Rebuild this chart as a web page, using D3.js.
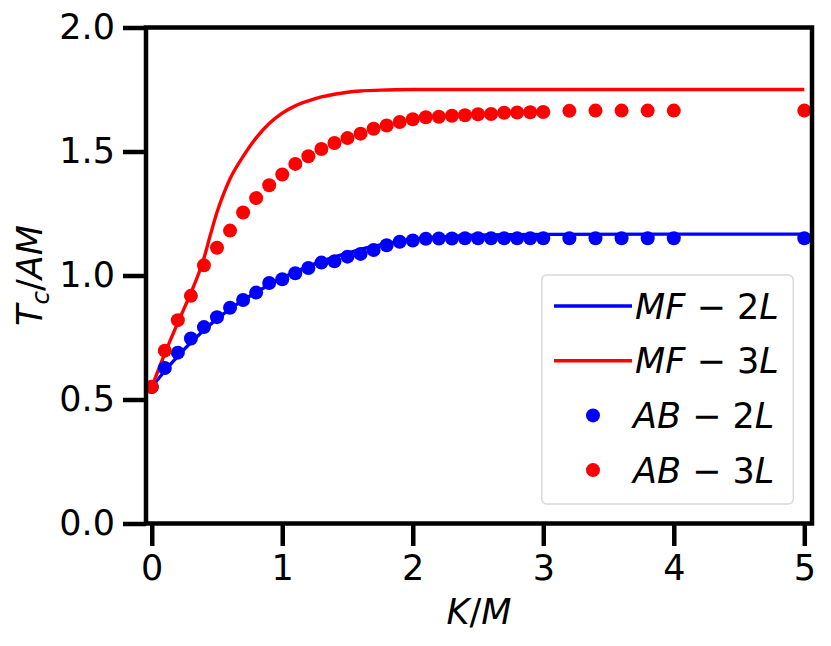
<!DOCTYPE html>
<html>
<head>
<meta charset="utf-8">
<script src="https://cdn.jsdelivr.net/npm/d3@7"></script>
<style>
  body { margin: 0; background: #fff; }
  text { font-family: "DejaVu Sans", sans-serif; }
</style>
</head>
<body>
<script>
// K/M grid of the AB (dots) data
var kAB = [0, 0.1, 0.2, 0.3, 0.4, 0.5, 0.6, 0.7, 0.8, 0.9, 1.0,
           1.1, 1.2, 1.3, 1.4, 1.5, 1.6, 1.7, 1.8, 1.9, 2.0,
           2.1, 2.2, 2.3, 2.4, 2.5, 2.6, 2.7, 2.8, 2.9, 3.0,
           3.2, 3.4, 3.6, 3.8, 4.0, 5.0];
var ab2L = [0.550, 0.627, 0.689, 0.746, 0.792, 0.832, 0.870, 0.901, 0.931, 0.970, 0.985,
            1.009, 1.030, 1.052, 1.057, 1.076, 1.087, 1.103, 1.122, 1.136, 1.141,
            1.148, 1.149, 1.149, 1.150, 1.150, 1.150, 1.150, 1.150, 1.150, 1.150,
            1.150, 1.150, 1.150, 1.150, 1.150, 1.150];
var ab3L = [0.551, 0.697, 0.820, 0.918, 1.041, 1.112, 1.181, 1.254, 1.312, 1.364, 1.407,
            1.450, 1.481, 1.510, 1.534, 1.554, 1.572, 1.592, 1.605, 1.619, 1.630,
            1.638, 1.640, 1.644, 1.646, 1.650, 1.651, 1.656, 1.657, 1.658, 1.659,
            1.664, 1.665, 1.665, 1.665, 1.665, 1.665];

// K/M grid of the MF (lines) curves
var kMF = [0, 0.1, 0.2, 0.3, 0.35, 0.4, 0.45, 0.5, 0.55, 0.6, 0.7, 0.8, 0.9, 1.0,
           1.1, 1.2, 1.3, 1.4, 1.5, 1.6, 1.8, 2.0, 2.5, 3.0, 4.0, 5.0];
var mf2L = [0.55, 0.615, 0.675, 0.73, 0.755, 0.78, 0.803, 0.825, 0.845, 0.865, 0.90, 0.933, 0.962, 0.99,
            1.015, 1.037, 1.057, 1.075, 1.09, 1.105, 1.128, 1.145, 1.162, 1.166, 1.167, 1.167];
var mf3L = [0.55, 0.685, 0.81, 0.93, 0.995, 1.07, 1.165, 1.255, 1.328, 1.39, 1.48, 1.555, 1.613, 1.655,
            1.684, 1.704, 1.72, 1.731, 1.739, 1.744, 1.748, 1.75, 1.75, 1.75, 1.75, 1.75];

var xTicks = [0, 1, 2, 3, 4, 5];
var yTicks = [0, 0.5, 1.0, 1.5, 2.0];

var W = 831, H = 646;
var mLeft = 146, mRight = 812, mTop = 27.5, mBottom = 523.5;
var fs = 35;

var svg = d3.select('body').append('svg')
    .attr('width', W)
    .attr('height', H);

var x = d3.scaleLinear().domain([-0.044, 5.059]).range([mLeft, mRight]);
var y = d3.scaleLinear().domain([0, 2]).range([mBottom, mTop]);

var line = d3.line()
    .x(function(d) { return x(d[0]); })
    .y(function(d) { return y(d[1]); })
    .curve(d3.curveMonotoneX);

var plot = svg.append('g');

plot.append('path')
    .attr('d', line(d3.zip(kMF, mf2L)))
    .attr('fill', 'none').attr('stroke', '#0000ff').attr('stroke-width', 3.4);
plot.append('path')
    .attr('d', line(d3.zip(kMF, mf3L)))
    .attr('fill', 'none').attr('stroke', '#ff0000').attr('stroke-width', 3.4);

plot.selectAll('.ab2').data(d3.zip(kAB, ab2L)).enter().append('circle')
    .attr('cx', function(d) { return x(d[0]); })
    .attr('cy', function(d) { return y(d[1]); })
    .attr('r', 7).attr('fill', '#0000ff');
plot.selectAll('.ab3').data(d3.zip(kAB, ab3L)).enter().append('circle')
    .attr('cx', function(d) { return x(d[0]); })
    .attr('cy', function(d) { return y(d[1]); })
    .attr('r', 7).attr('fill', '#ff0000');

// axes
var xAxis = d3.axisBottom(x).tickValues(xTicks).tickFormat(d3.format('d'))
    .tickSizeInner(22.5).tickSizeOuter(0).tickPadding(9);
var yAxis = d3.axisLeft(y).tickValues(yTicks).tickFormat(d3.format('.1f'))
    .tickSizeInner(23).tickSizeOuter(0).tickPadding(8);

var gx = svg.append('g').attr('transform', 'translate(0,' + mBottom + ')').call(xAxis);
var gy = svg.append('g').attr('transform', 'translate(' + mLeft + ',0)').call(yAxis);
[gx, gy].forEach(function(g) {
    g.select('.domain').remove();
    g.selectAll('.tick line').attr('stroke', '#000').attr('stroke-width', 4.5);
    g.selectAll('.tick text').attr('fill', '#000')
        .style('font-size', fs + 'px').style('font-family', '"DejaVu Sans"');
});

// spines
svg.append('rect')
    .attr('x', mLeft).attr('y', mTop)
    .attr('width', mRight - mLeft).attr('height', mBottom - mTop)
    .attr('fill', 'none').attr('stroke', '#000').attr('stroke-width', 4.5);

// axis labels
var xl = svg.append('text')
    .attr('x', (mLeft + mRight) / 2).attr('y', 624)
    .attr('text-anchor', 'middle').style('font-size', fs + 'px');
xl.append('tspan').style('font-style', 'italic').text('K');
xl.append('tspan').text('/');
xl.append('tspan').style('font-style', 'italic').text('M');

var yl = svg.append('text')
    .attr('transform', 'translate(41.5,' + ((mTop + mBottom) / 2) + ') rotate(-90)')
    .attr('text-anchor', 'middle').style('font-size', fs + 'px');
yl.append('tspan').style('font-style', 'italic').text('T');
yl.append('tspan').style('font-style', 'italic').style('font-size', (fs * 0.7) + 'px')
    .attr('dy', 7).text('c');
yl.append('tspan').attr('dy', -7).text('/');
yl.append('tspan').style('font-style', 'italic').text('AM');

// legend
var legendItems = [
    {a: 'MF', b: '2', c: 'L', color: '#0000ff', type: 'line'},
    {a: 'MF', b: '3', c: 'L', color: '#ff0000', type: 'line'},
    {a: 'AB', b: '2', c: 'L', color: '#0000ff', type: 'dot'},
    {a: 'AB', b: '3', c: 'L', color: '#ff0000', type: 'dot'}
];

var lg = svg.append('g');
lg.append('rect')
    .attr('x', 541.7).attr('y', 275).attr('width', 251.6).attr('height', 229)
    .attr('rx', 5).attr('ry', 5)
    .attr('fill', '#fff').attr('fill-opacity', 0.8)
    .attr('stroke', '#d9d9d9').attr('stroke-width', 1.5);

legendItems.forEach(function(it, i) {
    var cy = 306 + i * 54.7;
    if (it.type === 'line') {
        lg.append('line').attr('x1', 554).attr('x2', 632).attr('y1', cy).attr('y2', cy)
            .attr('stroke', it.color).attr('stroke-width', 3.4);
    } else {
        lg.append('circle').attr('cx', 593).attr('cy', cy).attr('r', 7).attr('fill', it.color);
    }
    var t = lg.append('text').attr('x', it.type === 'line' ? 635 : 633).attr('y', cy + 12.5)
        .style('font-size', fs + 'px');
    t.append('tspan').style('font-style', 'italic').text(it.a);
    t.append('tspan').text(' \u2212 ' + it.b);
    t.append('tspan').style('font-style', 'italic').text(it.c);
});
</script>
</body>
</html>
